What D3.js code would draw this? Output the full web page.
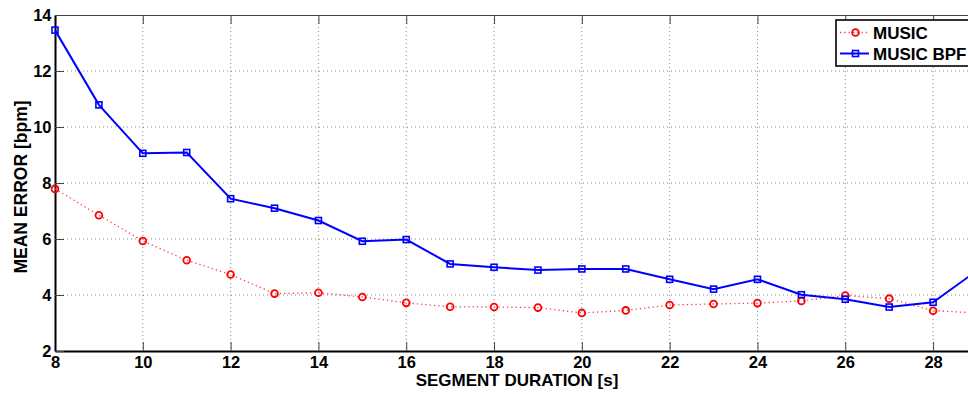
<!DOCTYPE html>
<html lang="en">
<head>
<meta charset="utf-8">
<title>Mean error vs segment duration</title>
<script src="https://d3js.org/d3.v7.min.js"></script>
<style>
  body { margin: 0; background: #fff; }
  svg { display: block; }
  svg text { font-family: "Liberation Sans", Arial, sans-serif; font-weight: bold; fill: #000; }
</style>
</head>
<body>
<svg id="chart" width="968" height="394"></svg>
<script>
// segment durations [s]
var durations = [8, 9, 10, 11, 12, 13, 14, 15, 16, 17, 18, 19, 20, 21, 22, 23, 24, 25, 26, 27, 28, 29];
// mean error [bpm] for each method
var music    = [7.79, 6.85, 5.93, 5.24, 4.73, 4.05, 4.08, 3.93, 3.72, 3.58, 3.57, 3.55, 3.36, 3.45, 3.64, 3.68, 3.71, 3.79, 3.98, 3.87, 3.44, 3.36];
var musicBpf = [13.46, 10.79, 9.06, 9.09, 7.44, 7.10, 6.66, 5.92, 5.98, 5.11, 4.99, 4.89, 4.93, 4.93, 4.56, 4.21, 4.56, 4.01, 3.85, 3.57, 3.74, 4.87];
var xTicks = [8, 10, 12, 14, 16, 18, 20, 22, 24, 26, 28];
var yTicks = [2, 4, 6, 8, 10, 12, 14];

// plot box (right edge falls just past the window, as in the original crop)
var pLeft = 55, pTop = 15, pRight = 977, pBottom = 351;

var svg = d3.select("#chart");

var x = d3.scaleLinear().domain([8, 29]).range([pLeft, pRight]);
var y = d3.scaleLinear().domain([2, 14]).range([pBottom, pTop]);

// dotted grid
var grid = svg.append("g");
grid.selectAll("line.gx")
  .data(xTicks.slice(1))
  .enter().append("line")
  .attr("x1", d => x(d)).attr("x2", d => x(d))
  .attr("y1", pTop).attr("y2", pBottom)
  .attr("stroke", "#888").attr("stroke-width", 1).attr("stroke-dasharray", "1,3");
grid.selectAll("line.gy")
  .data(yTicks.slice(1, -1))
  .enter().append("line")
  .attr("x1", pLeft).attr("x2", pRight)
  .attr("y1", d => y(d)).attr("y2", d => y(d))
  .attr("stroke", "#888").attr("stroke-width", 1).attr("stroke-dasharray", "1,3");

// top border with inward ticks
var topAxis = svg.append("g")
  .attr("transform", "translate(0," + pTop + ")")
  .call(d3.axisTop(x).tickValues(xTicks).tickSize(-9).tickFormat(""));
topAxis.select(".domain").attr("stroke", "#444").attr("stroke-width", 1.2);
topAxis.selectAll(".tick line").attr("stroke", "#444");

// bottom axis
var xAxis = svg.append("g")
  .attr("transform", "translate(0," + pBottom + ")")
  .call(d3.axisBottom(x).tickValues(xTicks).tickSize(-9).tickPadding(5.5).tickSizeOuter(0));
xAxis.select(".domain").attr("stroke", "#000").attr("stroke-width", 2.2);
xAxis.selectAll(".tick line").attr("stroke", "#444");
xAxis.selectAll("text").attr("font-size", 16.5);

// left axis
var yAxis = svg.append("g")
  .attr("transform", "translate(" + pLeft + ",0)")
  .call(d3.axisLeft(y).tickValues(yTicks).tickSize(-9).tickPadding(3.5).tickSizeOuter(0));
yAxis.select(".domain").attr("stroke", "#000").attr("stroke-width", 2);
yAxis.selectAll(".tick line").attr("stroke", "#444");
yAxis.selectAll("text").attr("font-size", 16.5);

// MUSIC: red dotted line with circles
var lineGen = d3.line().x((d, i) => x(durations[i])).y(d => y(d));
svg.append("path")
  .datum(music)
  .attr("d", lineGen)
  .attr("fill", "none")
  .attr("stroke", "#ff4040")
  .attr("stroke-width", 1.3)
  .attr("stroke-dasharray", "1.3,3");
svg.selectAll("circle.music")
  .data(music)
  .enter().append("circle")
  .attr("cx", (d, i) => x(durations[i]))
  .attr("cy", d => y(d))
  .attr("r", 3.4)
  .attr("fill", "none")
  .attr("stroke", "#ff0000")
  .attr("stroke-width", 1.8);

// MUSIC BPF: blue solid line with squares
svg.append("path")
  .datum(musicBpf)
  .attr("d", lineGen)
  .attr("fill", "none")
  .attr("stroke", "#0000ff")
  .attr("stroke-width", 2);
svg.selectAll("rect.bpf")
  .data(musicBpf)
  .enter().append("rect")
  .attr("x", (d, i) => x(durations[i]) - 3)
  .attr("y", d => y(d) - 3)
  .attr("width", 6).attr("height", 6)
  .attr("fill", "none")
  .attr("stroke", "#0000ff")
  .attr("stroke-width", 1.6);

// axis labels
svg.append("text")
  .attr("x", 517)
  .attr("y", 386)
  .attr("text-anchor", "middle")
  .attr("font-size", 17)
  .text("SEGMENT DURATION [s]");
svg.append("text")
  .attr("transform", "translate(26.5,187) rotate(-90)")
  .attr("text-anchor", "middle")
  .attr("font-size", 17.5)
  .text("MEAN ERROR [bpm]");

// legend
var lg = svg.append("g");
lg.append("rect")
  .attr("x", 836).attr("y", 20).attr("width", 160).attr("height", 46)
  .attr("fill", "#fff").attr("stroke", "#000").attr("stroke-width", 1.6);
lg.append("line")
  .attr("x1", 840).attr("x2", 869).attr("y1", 32.5).attr("y2", 32.5)
  .attr("stroke", "#ff4040").attr("stroke-width", 1.3).attr("stroke-dasharray", "1.3,3");
lg.append("circle")
  .attr("cx", 855.5).attr("cy", 32.5).attr("r", 3.4)
  .attr("fill", "none").attr("stroke", "#ff0000").attr("stroke-width", 1.8);
lg.append("text").attr("x", 873).attr("y", 38.5).attr("font-size", 17).text("MUSIC");
lg.append("line")
  .attr("x1", 840).attr("x2", 869).attr("y1", 53.5).attr("y2", 53.5)
  .attr("stroke", "#0000ff").attr("stroke-width", 2);
lg.append("rect")
  .attr("x", 852.5).attr("y", 50.5).attr("width", 6).attr("height", 6)
  .attr("fill", "none").attr("stroke", "#0000ff").attr("stroke-width", 1.6);
lg.append("text").attr("x", 873).attr("y", 59.5).attr("font-size", 17).text("MUSIC BPF");
</script>
</body>
</html>
